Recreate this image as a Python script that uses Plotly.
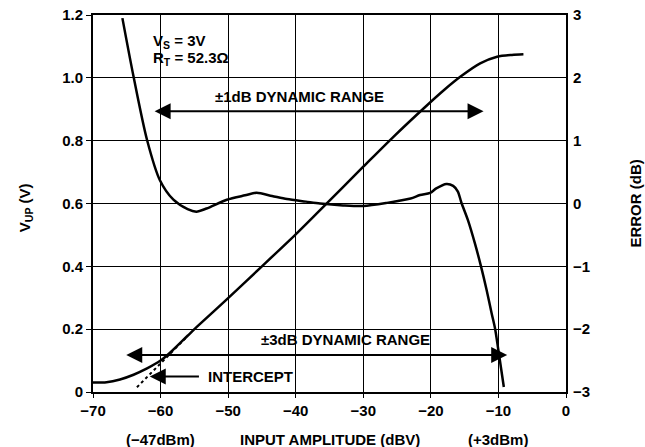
import plotly.graph_objects as go

# V_UP (left axis, V) versus input amplitude (dBV)
vup_x = [-70, -68, -66, -64, -62, -60, -58.6, -56, -54.6, -50.2, -45, -40, -36.4,
         -30, -25.5, -20.8, -18, -15.6, -12.7, -10.2, -8, -6.3]
vup_y = [0.030, 0.031, 0.040, 0.055, 0.075, 0.100, 0.125, 0.179, 0.208, 0.295, 0.400,
         0.502, 0.579, 0.717, 0.813, 0.908, 0.962, 1.004, 1.046, 1.067, 1.073, 1.075]

# log-conformance error (right axis, dB)
err_x = [-65.65, -64, -62, -60.1, -58.1, -56, -54.7, -53.2, -50.2, -47.5, -45.8, -43.5,
         -41.3, -38.5, -36.4, -33, -30, -26.5, -23, -21.6, -20.1, -19.2, -17.7, -16.7,
         -16.0, -15.5, -14.5, -13.47, -12.58, -11.74, -11.0, -10.5, -10.0, -9.2]
err_y = [2.95, 2.02, 1.01, 0.37, 0.06, -0.09, -0.13, -0.08, 0.06, 0.13, 0.17, 0.12,
         0.07, 0.03, 0.00, -0.03, -0.04, 0.01, 0.08, 0.135, 0.17, 0.24, 0.31, 0.28,
         0.19, 0.02, -0.27, -0.64, -1.00, -1.38, -1.75, -1.99, -2.34, -2.92]

# extrapolated intercept line
intercept_x = [-63.5, -56.0]
intercept_y = [0.015, 0.178]

x_ticks = [-70, -60, -50, -40, -30, -20, -10, 0]
x_ticklabels = ["−70", "−60", "−50", "−40", "−30", "−20", "−10", "0"]
y_ticks = [0, 0.2, 0.4, 0.6, 0.8, 1.0, 1.2]
y_ticklabels = ["0", "0.2", "0.4", "0.6", "0.8", "1.0", "1.2"]
y2_ticks = [-3, -2, -1, 0, 1, 2, 3]
y2_ticklabels = ["−3", "−2", "−1", "0", "1", "2", "3"]

# dynamic range arrows: (start, end, level)
range1 = (-61.1, -12.2, 0.894)
range3 = (-65.3, -8.7, 0.118)
intercept_arrow = (-54.1, -61.6, 0.049)

FONT = "Liberation Sans, Arial, sans-serif"

fig = go.Figure()
fig.add_trace(go.Scatter(x=vup_x, y=vup_y, mode="lines",
                         line=dict(color="black", width=2.5, shape="spline", smoothing=0.8),
                         showlegend=False, hoverinfo="skip"))
fig.add_trace(go.Scatter(x=intercept_x, y=intercept_y, mode="lines",
                         line=dict(color="black", width=2, dash="3px,3px"),
                         showlegend=False, hoverinfo="skip"))
fig.add_trace(go.Scatter(x=err_x, y=err_y, mode="lines", yaxis="y2",
                         line=dict(color="black", width=2.5, shape="spline", smoothing=0.8),
                         showlegend=False, hoverinfo="skip"))

ann = []
def arrow(x0, x1, y, both):
    ann.append(dict(x=x1, y=y, ax=x0, ay=y, xref="x", yref="y", axref="x", ayref="y",
                    text="", showarrow=True, arrowhead=2, arrowsize=1.6, arrowwidth=2,
                    arrowcolor="black", arrowside="end+start" if both else "end",
                    standoff=0, startstandoff=0))

arrow(range1[0], range1[1], range1[2], True)
arrow(range3[0], range3[1], range3[2], True)
arrow(intercept_arrow[0], intercept_arrow[1], intercept_arrow[2], False)

def text(x, y, s, xref="x", yref="y", xanchor="center", angle=0, size=15):
    ann.append(dict(x=x, y=y, xref=xref, yref=yref, text=s, showarrow=False,
                    xanchor=xanchor, yanchor="middle", textangle=angle,
                    font=dict(family=FONT, size=size, color="black", weight="bold")))

text(-39.5, 0.94, "±1dB DYNAMIC RANGE")
text(-32.7, 0.166, "±3dB DYNAMIC RANGE")
text(-53.3, 0.049, "INTERCEPT", xanchor="left")
text(-61.4, 1.117, "V<sub>S</sub> = 3V", xanchor="left")
text(-61.4, 1.062, "R<sub>T</sub> = 52.3Ω", xanchor="left")
text(-60, -0.127, "(−47dBm)", yref="paper")
text(-35, -0.127, "INPUT AMPLITUDE (dBV)", yref="paper")
text(-10, -0.127, "(+3dBm)", yref="paper")
text(-0.144, 0.49, "V<sub>UP</sub> (V)", xref="paper", yref="paper", angle=-90)
text(1.146, 0.50, "ERROR (dB)", xref="paper", yref="paper", angle=-90)

axis_font = dict(family=FONT, size=15, color="black", weight="bold")

fig.update_layout(
    width=645, height=447,
    margin=dict(l=93, r=79, t=15, b=55),
    paper_bgcolor="white", plot_bgcolor="white",
    font=dict(family=FONT, size=15, color="black", weight="bold"),
    annotations=ann,
    xaxis=dict(range=[-70, 0], tickvals=x_ticks, ticktext=x_ticklabels, automargin=False,
               showgrid=True, gridcolor="black", gridwidth=1.2, zeroline=False,
               showline=True, linecolor="black", linewidth=2, mirror=True,
               ticks="outside", ticklen=4, tickcolor="black", tickwidth=1.2,
               ticklabeloverflow="allow", tickfont=axis_font),
    yaxis=dict(range=[0, 1.2], tickvals=y_ticks, ticktext=y_ticklabels, automargin=False,
               showgrid=True, gridcolor="black", gridwidth=1.2, zeroline=False,
               showline=True, linecolor="black", linewidth=2, mirror=True,
               ticks="outside", ticklen=5, tickcolor="black", tickwidth=1.2,
               ticklabeloverflow="allow", tickfont=axis_font),
    yaxis2=dict(range=[-3, 3], tickvals=y2_ticks, ticktext=y2_ticklabels, automargin=False,
                overlaying="y", side="right", showgrid=False, zeroline=False,
                showline=False, ticks="", ticklabelstandoff=6,
                ticklabeloverflow="allow", tickfont=axis_font),
)

fig.write_html(
    "out.html",
    config={"displayModeBar": False},
    post_script="document.body.style.margin='0';document.body.style.overflow='hidden';",
)
